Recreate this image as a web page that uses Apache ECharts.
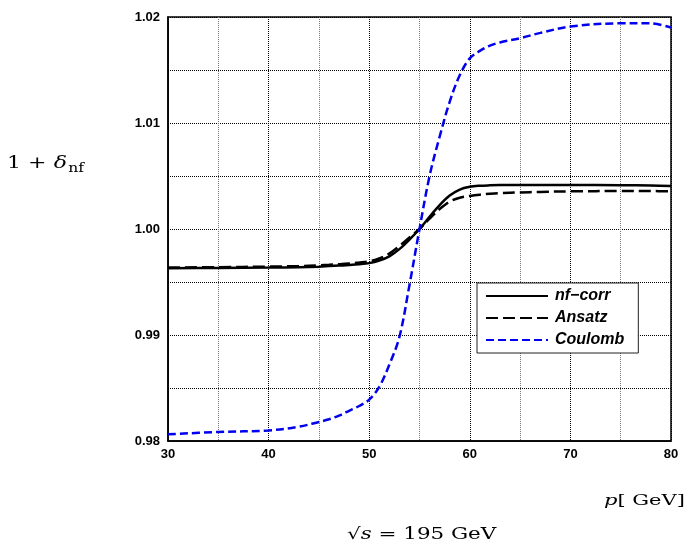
<!DOCTYPE html>
<html>
<head>
<meta charset="utf-8">
<script src="https://cdn.jsdelivr.net/npm/echarts@6/dist/echarts.min.js"></script>
<style>html,body{margin:0;padding:0;background:#fff}#c{width:686px;height:555px}</style>
</head>
<body>
<div id="c"></div>
<script>
const pValues = [30, 35, 40, 43, 45, 46, 47, 48, 49, 50, 51, 52, 53, 54, 55, 56, 57, 58, 59, 60, 61, 62, 63, 65, 67, 70, 75, 78, 80];
const nfCorr  = [0.99630, 0.99632, 0.99636, 0.99640, 0.99645, 0.99650, 0.99655, 0.99660, 0.99667, 0.99678, 0.99702, 0.99742, 0.99810, 0.99900, 1.00000, 1.00115, 1.00225, 1.00315, 1.00372, 1.00398, 1.00408, 1.00412, 1.00414, 1.00415, 1.00415, 1.00415, 1.00413, 1.00410, 1.00405];
const ansatz  = [0.99636, 0.99640, 0.99645, 0.99650, 0.99657, 0.99662, 0.99668, 0.99675, 0.99684, 0.99696, 0.99722, 0.99768, 0.99840, 0.99920, 1.00000, 1.00098, 1.00188, 1.00258, 1.00295, 1.00312, 1.00324, 1.00332, 1.00338, 1.00345, 1.00350, 1.00355, 1.00358, 1.00358, 1.00355];
const coulomb = [0.98063, 0.98085, 0.98100, 0.98135, 0.98180, 0.98205, 0.98240, 0.98285, 0.98330, 0.98390, 0.98510, 0.98720, 0.98980, 0.99470, 1.00000, 1.00500, 1.00870, 1.01200, 1.01450, 1.01610, 1.01680, 1.01730, 1.01760, 1.01800, 1.01850, 1.01910, 1.01940, 1.01940, 1.01900];
const seriesNames = ['nf\u2212corr', 'Ansatz', 'Coulomb'];
const xTicks = [30, 40, 50, 60, 70, 80];
const yTicks = [0.98, 0.99, 1.00, 1.01, 1.02];

const pairs = arr => pValues.map((p, i) => [p, arr[i]]);
const chart = echarts.init(document.getElementById('c'));
const tickFont = {fontFamily: 'Liberation Sans, Arial, sans-serif', fontWeight: 'bold', fontSize: 13, color: '#000'};
const serif = 'DejaVu Serif, Liberation Serif, serif';

chart.setOption({
  animation: false,
  backgroundColor: '#fff',
  grid: {left: 168, right: 15, top: 17, bottom: 114, show: true, borderColor: '#000', borderWidth: 1.5, backgroundColor: 'transparent'},
  xAxis: {
    type: 'value', min: 30, max: 80, interval: 5,
    axisLine: {show: true, lineStyle: {color: '#000', width: 1.5}},
    axisTick: {show: false},
    axisLabel: Object.assign({margin: 7, formatter: v => xTicks.includes(Math.round(v)) && Math.round(v) === v ? String(v) : ''}, tickFont),
    splitLine: {show: true, lineStyle: {type: 'dotted', width: 1, color: ['#000', '#777']}}
  },
  yAxis: {
    type: 'value', min: 0.98, max: 1.02, interval: 0.005,
    axisLine: {show: true, lineStyle: {color: '#000', width: 1.5}},
    axisTick: {show: false},
    axisLabel: Object.assign({margin: 8, formatter: v => {
      const r = Math.round(v * 1000);
      return yTicks.some(t => Math.round(t * 1000) === r) ? v.toFixed(2) : '';
    }}, tickFont),
    splitLine: {show: true, lineStyle: {type: 'dotted', width: 1, color: '#000'}}
  },
  legend: {
    orient: 'vertical', left: 477, top: 283,
    padding: [5, 14, 5, 8], itemGap: 6, itemWidth: 62, itemHeight: 14,
    borderColor: '#222', borderWidth: 1, backgroundColor: '#fff',
    itemStyle: {color: 'transparent', borderWidth: 0, opacity: 0},
    textStyle: {fontFamily: 'Liberation Sans, Arial, sans-serif', fontWeight: 'bold', fontStyle: 'italic', fontSize: 16, color: '#000', padding: [0, 0, 0, 2]},
    data: seriesNames
  },
  series: [
    {name: seriesNames[0], type: 'line', data: pairs(nfCorr), smooth: 0.35, symbol: 'none', z: 3,
     lineStyle: {color: '#000', width: 2.5, type: 'solid'}, itemStyle: {color: '#000'}},
    {name: seriesNames[1], type: 'line', data: pairs(ansatz), smooth: 0.35, symbol: 'none', z: 3,
     lineStyle: {color: '#000', width: 2.5, type: [12, 5]}, itemStyle: {color: '#000'}},
    {name: seriesNames[2], type: 'line', data: pairs(coulomb), smooth: 0.35, symbol: 'none', z: 4,
     lineStyle: {color: '#0000ee', width: 2.5, type: [8, 4]}, itemStyle: {color: '#0000ee'}}
  ],
  graphic: [
    {type: 'text', x: 7, y: 175, scaleX: 1.3, style: {
      text: '{a|1 + }{d|\u03b4}{s|nf}', fill: '#000', verticalAlign: 'bottom',
      rich: {
        a: {fontFamily: serif, fontSize: 17},
        d: {fontFamily: serif, fontSize: 17, fontStyle: 'italic'},
        s: {fontFamily: serif, fontSize: 12, padding: [10, 0, 0, 1]}
      }}},
    {type: 'text', x: 604, y: 509, scaleX: 1.4, style: {
      text: '{p|p}{b|[ GeV]}', fill: '#000', verticalAlign: 'bottom',
      rich: {
        p: {fontFamily: serif, fontSize: 15, fontStyle: 'italic'},
        b: {fontFamily: serif, fontSize: 15}
      }}},
    {type: 'text', x: 347, y: 543, scaleX: 1.34, style: {
      text: '{r|\u221a}{s|s}{e| = 195 GeV}', fill: '#000', verticalAlign: 'bottom',
      rich: {
        r: {fontFamily: serif, fontSize: 16},
        s: {fontFamily: serif, fontSize: 16, fontStyle: 'italic'},
        e: {fontFamily: serif, fontSize: 16}
      }}}
  ]
});
</script>
</body>
</html>
